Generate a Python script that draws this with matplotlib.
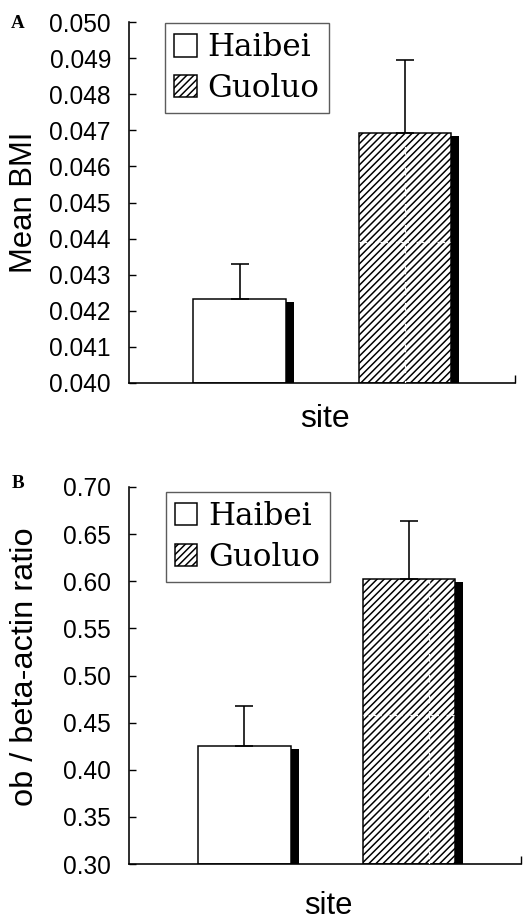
import matplotlib
matplotlib.use("Agg")
import matplotlib.pyplot as plt
import numpy as np
from matplotlib.transforms import offset_copy

# ---------------- data ----------------
sites = ["Haibei", "Guoluo"]
bmi_mean = [0.04233, 0.04692]
bmi_err = [0.00098, 0.00202]
ob_mean = [0.425, 0.602]
ob_err = [0.043, 0.062]
bmi_ticks = [0.040, 0.041, 0.042, 0.043, 0.044, 0.045, 0.046, 0.047, 0.048, 0.049, 0.050]
bmi_ticklabels = ["0.040", "0.041", "0.042", "0.043", "0.044", "0.045",
                  "0.046", "0.047", "0.048", "0.049", "0.050"]
ob_ticks = [0.30, 0.35, 0.40, 0.45, 0.50, 0.55, 0.60, 0.65, 0.70]
ob_ticklabels = ["0.30", "0.35", "0.40", "0.45", "0.50", "0.55", "0.60", "0.65", "0.70"]
ylabel_a = "Mean BMI"
ylabel_b = "ob / beta-actin ratio"
xlabel = "site"

# ---------------- layout helpers ----------------
W, H = 523, 922
DPI = 85


def pt(px):
    return px * 72.0 / DPI


plt.rcParams["hatch.linewidth"] = pt(1.5)
plt.rcParams["hatch.color"] = "black"

fig = plt.figure(figsize=(W / DPI, H / DPI), dpi=DPI, facecolor="white")


def axes_px(left, top, right, bottom):
    return fig.add_axes([left / W, (H - bottom) / H, (right - left) / W, (bottom - top) / H])


axA = axes_px(129, 22, 515, 383)
axB = axes_px(129, 487, 521, 864)

fills = ["white", "white"]
hatches = [None, "////"]
x = np.arange(len(sites))
BAR_W = 0.56


def draw_panel(ax, means, errs, ylim, ticks, ticklabels, xlim, legend_anchor,
               artifact_vx, artifact_hy):
    means = np.asarray(means)
    heights = means - ylim[0]
    # shadow bars (offset copies)
    shadow_tr = offset_copy(ax.transData, fig=fig, x=8, y=-3, units="dots")
    ax.bar(x, heights, width=BAR_W, bottom=ylim[0], color="black", linewidth=0,
           transform=shadow_tr, zorder=1, label="_nolegend_")
    for i in range(len(sites)):
        ax.bar(x[i], heights[i], bottom=ylim[0], width=BAR_W,
               facecolor=fills[i], edgecolor="black", hatch=hatches[i],
               linewidth=pt(1.5), zorder=2, label=sites[i])
    # white dashed artefact lines inside hatched bar
    ax.plot([artifact_vx, artifact_vx], [ylim[0], means[1]], color="white",
            linestyle=(0, (2, 2)), linewidth=pt(1.3), zorder=3)
    ax.plot([x[1] - BAR_W / 2, x[1] + BAR_W / 2], [artifact_hy, artifact_hy],
            color="white", linestyle=(0, (2, 2)), linewidth=pt(1.3), zorder=3)
    ax.errorbar(x, means, yerr=[np.zeros(len(errs)), errs], fmt="none",
                ecolor="black", elinewidth=pt(1.6), capsize=pt(9),
                capthick=pt(1.6), zorder=4)
    ax.set_ylim(*ylim)
    ax.set_xlim(*xlim)
    ax.set_yticks(ticks)
    ax.set_yticklabels(ticklabels, fontsize=pt(24.5), family="Liberation Sans")
    ax.set_xticks([xlim[1]])
    ax.set_xticklabels([""])
    ax.tick_params(axis="y", direction="in", length=6, width=pt(1.4), pad=pt(18))
    ax.tick_params(axis="x", direction="in", length=7, width=pt(1.4))
    for s in ["top", "right"]:
        ax.spines[s].set_visible(False)
    for s in ["left", "bottom"]:
        ax.spines[s].set_linewidth(pt(1.6))
    leg = ax.legend(loc="upper left", bbox_to_anchor=legend_anchor, borderaxespad=0,
                    prop={"family": "DejaVu Serif", "size": pt(31)},
                    handlelength=0.72, handleheight=0.72, handletextpad=0.35,
                    labelspacing=0.3, borderpad=0.3, fancybox=False,
                    frameon=True, edgecolor="#333333")
    leg.get_frame().set_linewidth(pt(1.4))


draw_panel(axA, bmi_mean, bmi_err, (0.040, 0.050), bmi_ticks, bmi_ticklabels,
           (-0.668, 1.665), (0.093, 0.997), 1.0, 0.0439)
draw_panel(axB, ob_mean, ob_err, (0.30, 0.70), ob_ticks, ob_ticklabels,
           (-0.702, 1.681), (0.094, 0.987), 1.12, 0.458)

# axis labels
fig.text(24 / W, 1 - 202 / H, ylabel_a, rotation=90, ha="center", va="center",
         fontsize=pt(31), family="Liberation Sans")
fig.text(25 / W, 1 - 667 / H, ylabel_b, rotation=90, ha="center", va="center",
         fontsize=pt(32.5), family="Liberation Sans")
fig.text(325 / W, 1 - 427 / H, xlabel, ha="center", va="baseline",
         fontsize=pt(32), family="Liberation Sans")
fig.text(328 / W, 1 - 914 / H, xlabel, ha="center", va="baseline",
         fontsize=pt(31), family="Liberation Sans")

# panel letters
fig.text(18 / W, 1 - 24 / H, "A", ha="center", va="center", fontsize=pt(19),
         family="Liberation Serif", weight="bold")
fig.text(18 / W, 1 - 484 / H, "B", ha="center", va="center", fontsize=pt(19),
         family="Liberation Serif", weight="bold")

fig.savefig("out.png", dpi=DPI, facecolor="white")
